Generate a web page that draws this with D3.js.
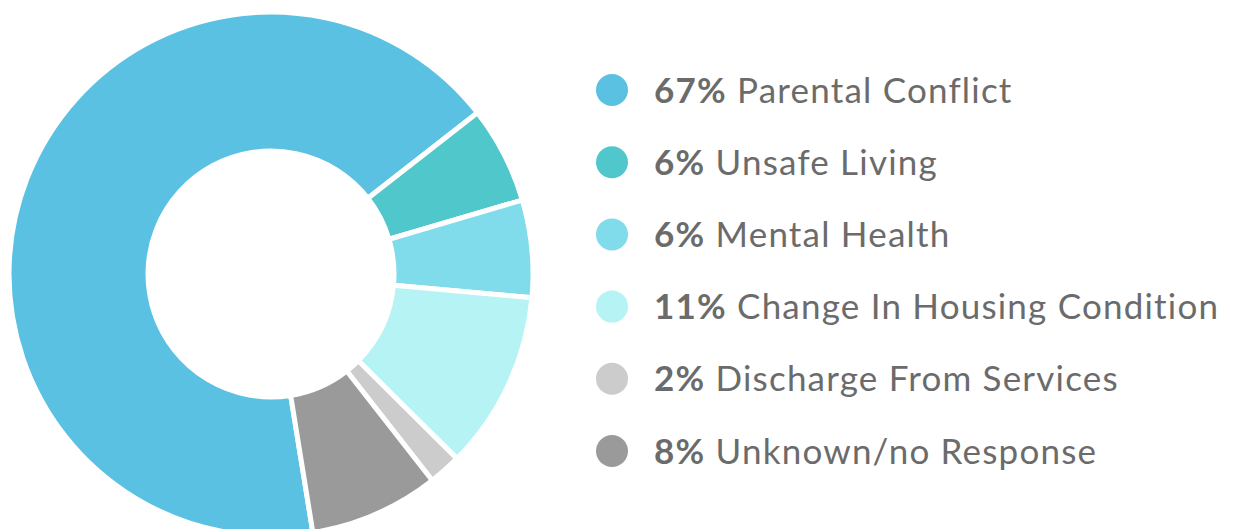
<!DOCTYPE html>
<html>
<head>
<meta charset="utf-8">
<script src="https://cdn.jsdelivr.net/npm/d3@7"></script>
<style>
  body { margin: 0; background: #fff; }
  #chart { width: 1233px; height: 529px; }
</style>
</head>
<body>
<div id="chart"></div>
<script>
// Data
const labels = ["Parental Conflict", "Unsafe Living", "Mental Health", "Change In Housing Condition", "Discharge From Services", "Unknown/no Response"];
const percents = [67, 6, 6, 11, 2, 8];
const colors = ["#5bc1e2", "#4fc7cb", "#80dbea", "#b5f3f5", "#cccccc", "#9a9a9a"];

const data = labels.map((label, i) => ({ label, value: percents[i], color: colors[i] }));

// Dimensions
const width = 1233, height = 529;
const cx = 271, cy = 274;
const outerR = 262, innerR = 123;

const svg = d3.select("#chart")
    .append("svg")
    .attr("width", width)
    .attr("height", height);

// Donut, rotated so the first slice ends at the upper right
const startDeg = 170.8;
const pie = d3.pie()
    .value(d => d.value)
    .sort(null)
    .startAngle(startDeg * Math.PI / 180)
    .endAngle((startDeg + 360) * Math.PI / 180);

const arc = d3.arc()
    .innerRadius(innerR)
    .outerRadius(outerR);

const g = svg.append("g")
    .attr("transform", `translate(${cx},${cy})`);

g.selectAll("path")
    .data(pie(data))
    .enter()
    .append("path")
    .attr("d", arc)
    .style("fill", d => d.data.color)
    .style("stroke", "#fff")
    .style("stroke-width", 5);

// Legend
const legendX = 612, legendY = 90, rowGap = 72.2;

const rows = svg.selectAll(".legend-row")
    .data(data)
    .enter()
    .append("g")
    .attr("class", "legend-row")
    .attr("transform", (d, i) => `translate(${legendX},${legendY + i * rowGap})`);

rows.append("circle")
    .attr("r", 16)
    .style("fill", d => d.color);

const txt = rows.append("text")
    .attr("x", 42)
    .attr("dy", "0.36em")
    .style("font-family", "Lato, 'Noto Sans', sans-serif")
    .style("font-size", "35px")
    .style("letter-spacing", "1.2px")
    .style("font-variant-ligatures", "none")
    .style("fill", "#6b6b6b");

txt.append("tspan")
    .style("font-weight", "bold")
    .text(d => d.value + "%");

txt.append("tspan")
    .text(d => " " + d.label);
</script>
</body>
</html>
